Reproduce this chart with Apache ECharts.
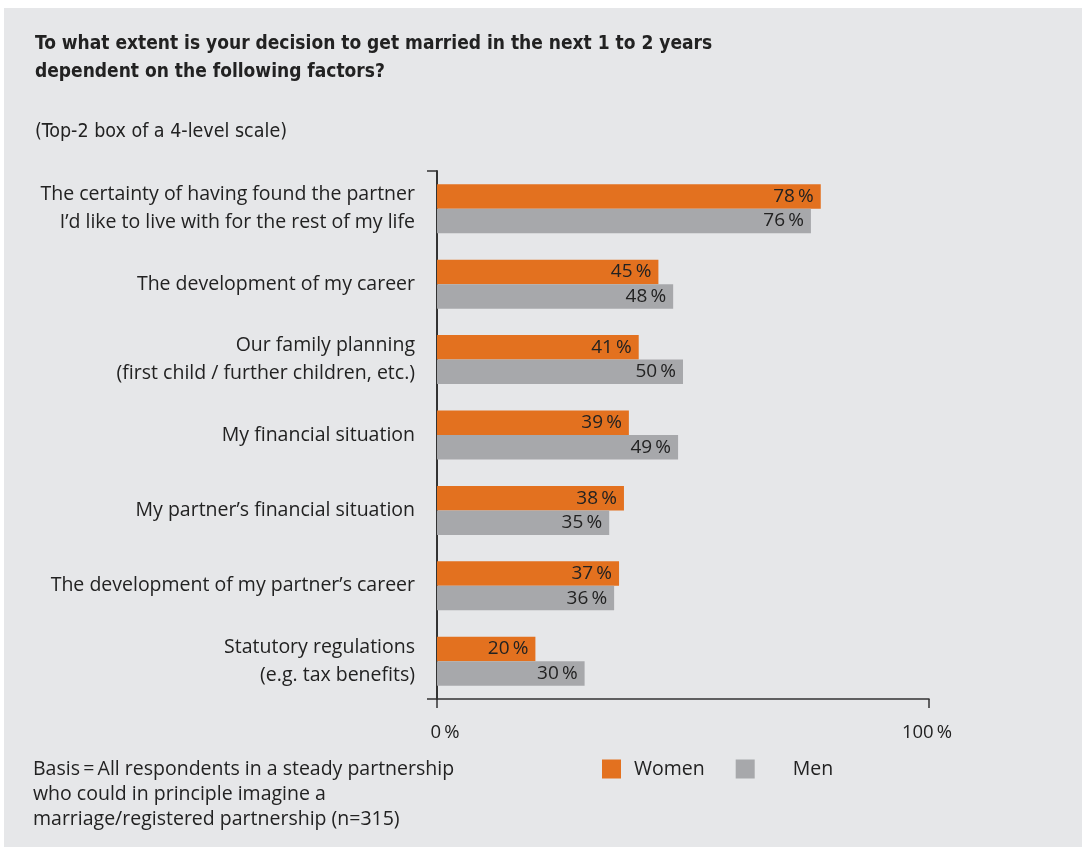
<!DOCTYPE html>
<html>
<head>
<meta charset="utf-8">
<script src="https://cdn.jsdelivr.net/npm/echarts@6/dist/echarts.min.js"></script>
<style>
  html, body { margin: 0; padding: 0; background: #ffffff; }
  #chart { position: absolute; left: 4px; top: 8px; width: 1078px; height: 839px; background: #e6e7e9; }
</style>
</head>
<body>
<div id="chart"></div>
<script>
// Factors influencing the decision to marry (top-2 box, % agreeing)
const categories = [
  'The certainty of having found the partner\nI\u2019d like to live with for the rest of my life',
  'The development of my career',
  'Our family planning\n(first child / further children, etc.)',
  'My financial situation',
  'My partner\u2019s financial situation',
  'The development of my partner\u2019s career',
  'Statutory regulations\n(e.g. tax benefits)'
];
const women = [78, 45, 41, 39, 38, 37, 20];
const men = [76, 48, 50, 49, 35, 36, 30];
const seriesNames = ['Women', 'Men'];
const axisTickValues = [0, 100];

const textColor = '#222222';
const bodyFont = '"Open Sans", "Noto Sans", sans-serif';
const narrowFont = '"DejaVu Sans Condensed", "Liberation Sans Narrow", sans-serif';

const chart = echarts.init(document.getElementById('chart'), null, { renderer: 'canvas' });

const valueLabel = {
  show: true,
  position: 'insideRight',
  distance: 7,
  color: textColor,
  fontFamily: bodyFont,
  fontSize: 19,
  formatter: p => p.value + '\u2009%'
};

chart.setOption({
  backgroundColor: '#e6e7e9',
  animation: false,
  title: [
    {
      text: 'To what extent is your decision to get married in the next 1 to 2 years\ndependent on the following factors?',
      left: 26, top: 17,
      textStyle: { fontFamily: narrowFont, fontWeight: 'bold', fontSize: 19, lineHeight: 28, color: textColor }
    },
    {
      text: '(Top-2 box of a 4-level scale)',
      left: 26, top: 109,
      textStyle: { fontFamily: narrowFont, fontWeight: 'normal', fontSize: 19.5, color: textColor }
    },
    {
      text: 'Basis\u2009=\u2009All respondents in a steady partnership\nwho could in principle imagine a\nmarriage/registered partnership (n=315)',
      left: 24, top: 744,
      textStyle: { fontFamily: bodyFont, fontWeight: 'normal', fontSize: 19.5, lineHeight: 25, color: textColor }
    }
  ],
  legend: {
    data: seriesNames,
    left: 593, top: 746,
    icon: 'rect',
    itemWidth: 19, itemHeight: 19,
    itemGap: 31,
    textStyle: {
      fontFamily: bodyFont, fontSize: 19.5, color: textColor,
      rich: {
        women: { fontFamily: bodyFont, fontSize: 19.5, color: textColor, padding: [0, 0, 0, 8] },
        men: { fontFamily: bodyFont, fontSize: 19.5, color: textColor, padding: [0, 0, 0, 33] }
      }
    },
    formatter: name => name === 'Men' ? '{men|' + name + '}' : '{women|' + name + '}'
  },
  grid: { left: 433, top: 163, width: 492, height: 528, containLabel: false },
  xAxis: {
    type: 'value',
    min: axisTickValues[0], max: axisTickValues[1], interval: 100,
    splitLine: { show: false },
    axisLine: { show: true, lineStyle: { color: '#333333', width: 1.5 } },
    axisTick: { show: true, inside: false, length: 9, lineStyle: { color: '#333333', width: 1.5 } },
    axisLabel: {
      margin: 24, color: textColor, fontFamily: bodyFont, fontSize: 18.5,
      rich: {
        zero: { fontFamily: bodyFont, fontSize: 18.5, color: textColor, padding: [0, 0, 0, 16] },
        full: { fontFamily: bodyFont, fontSize: 18.5, color: textColor, padding: [0, 4, 0, 0] }
      },
      formatter: v => v === 0 ? '{zero|' + v + '\u2009%}' : '{full|' + v + '\u2009%}'
    }
  },
  yAxis: {
    type: 'category',
    data: categories,
    inverse: true,
    axisLine: { show: true, lineStyle: { color: '#333333', width: 2 } },
    axisTick: { show: true, length: 10, interval: i => i === 0, lineStyle: { color: '#333333', width: 1.5 } },
    axisLabel: {
      margin: 22, color: textColor, fontFamily: bodyFont, fontSize: 19.5, lineHeight: 28,
      align: 'right', interval: 0, padding: [4, 0, 0, 0]
    }
  },
  series: [
    {
      name: seriesNames[0], type: 'bar', data: women,
      barWidth: 24.5, barGap: '0%',
      itemStyle: { color: '#e3711f' },
      label: valueLabel
    },
    {
      name: seriesNames[1], type: 'bar', data: men,
      barWidth: 24.5, barGap: '0%',
      itemStyle: { color: '#a7a8ab' },
      label: valueLabel
    }
  ]
});
</script>
</body>
</html>
